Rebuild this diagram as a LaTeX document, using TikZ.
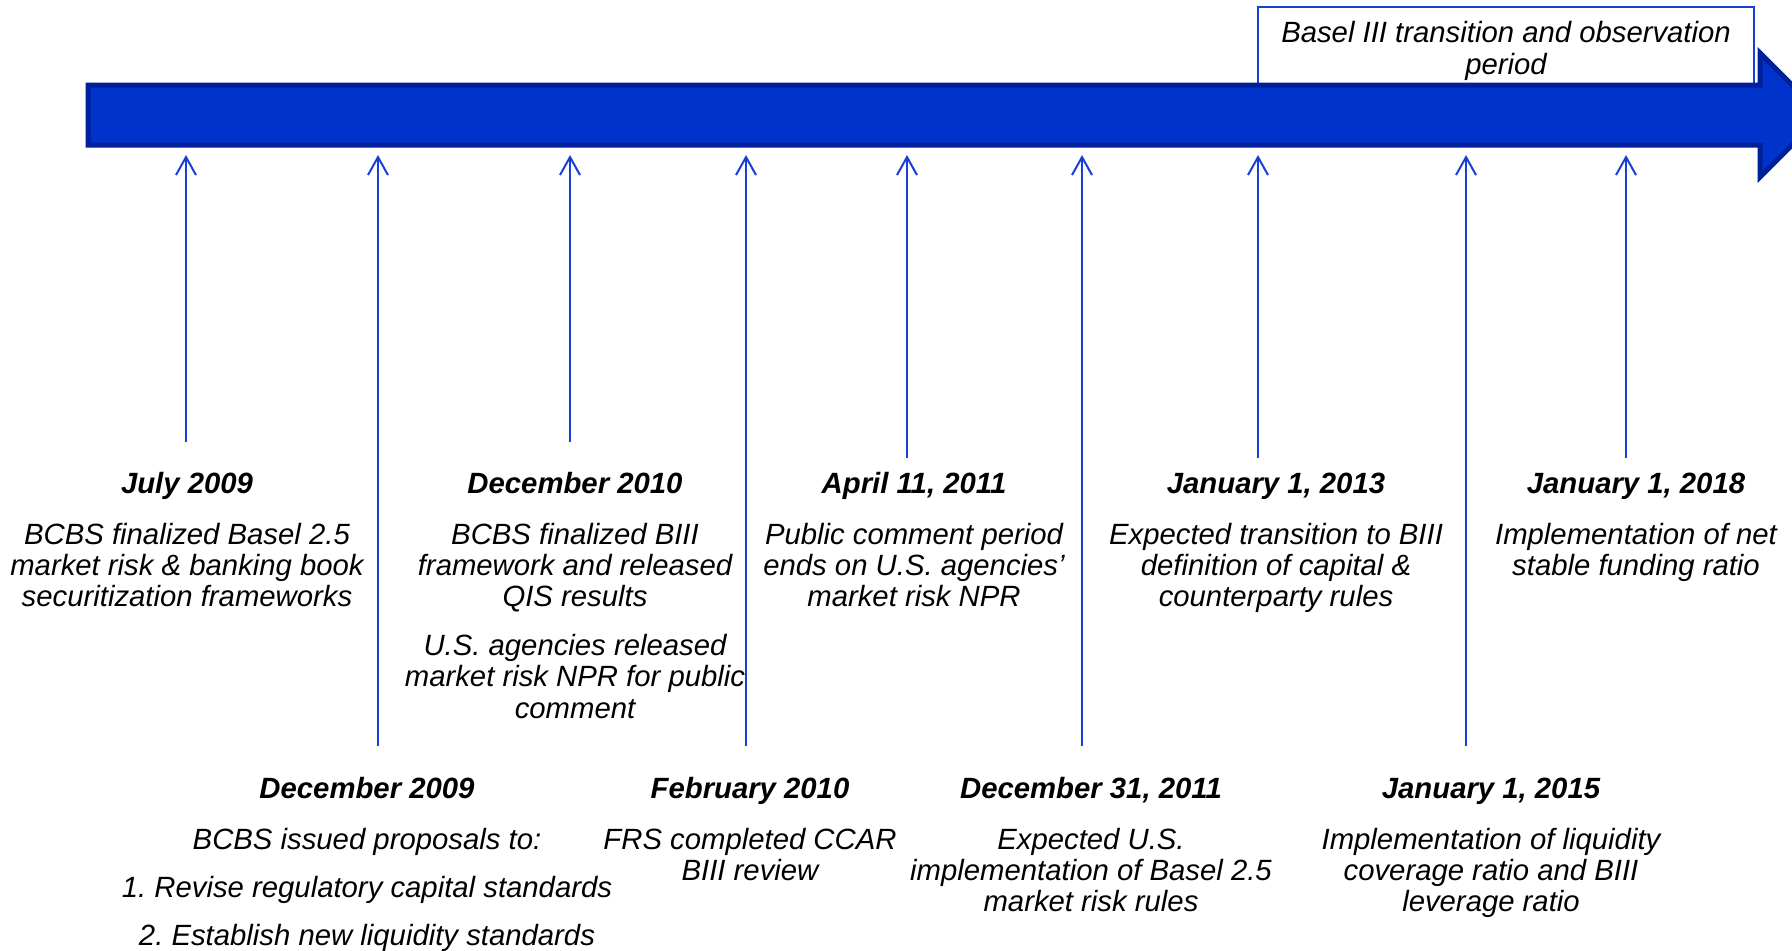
\documentclass[tikz,border=0pt]{standalone}
\usepackage{fontspec}
\setmainfont{Liberation Sans}
\usetikzlibrary{positioning, arrows.meta}
\definecolor{bandblue}{HTML}{0033CC}
\definecolor{bandedge}{HTML}{00209A}
\definecolor{lineblue}{HTML}{1A3FD6}
\tikzstyle{band} = [fill=bandblue, draw=bandedge, line width=2.5pt, line join=miter]
\tikzstyle{periodbox} = [rectangle, draw=lineblue, line width=0.7pt, fill=white, minimum width=248pt, minimum height=44pt, inner sep=0pt, align=center, font=\fontsize{14.65pt}{16pt}\selectfont\itshape]
\tikzstyle{milestone} = [draw=lineblue, line width=1pt, ->, >={Straight Barb[length=9pt, width=10pt]}]
\tikzstyle{datelabel} = [anchor=base, inner sep=0pt, text depth=0pt, font=\fontsize{14.65pt}{15.7pt}\selectfont\bfseries\itshape]
\tikzstyle{eventtext} = [inner sep=0pt, align=center, font=\fontsize{14.65pt}{15.7pt}\selectfont\itshape]

\begin{document}
\begin{tikzpicture}[x=0.5pt, y=-0.5pt, node distance=14.5pt]
\clip (0,0) rectangle (1792,950);
\node (period) [periodbox] at (1506,51) {Basel III transition and observation\\period};
\draw [band] (88,85) -- (1760,85) -- (1760,53) -- (1822,115) -- (1760,177) -- (1760,145) -- (88,145) -- cycle;

\coordinate (tips) at (0,155);
\coordinate (f1) at (186,442);
\coordinate (f2) at (378,746);
\coordinate (f3) at (570,442);
\coordinate (f4) at (746,746);
\coordinate (f5) at (907,458);
\coordinate (f6) at (1082,746);
\coordinate (f7) at (1258,458);
\coordinate (f8) at (1466,746);
\coordinate (f9) at (1626,458);
\foreach \i in {1,...,9}
  \draw [milestone] (f\i) -- (f\i |- tips);

\node (jul09) [datelabel] at (187,493) {July 2009};
\node (dec10) [datelabel] at (575,493) {December 2010};
\node (apr11) [datelabel] at (914,493) {April 11, 2011};
\node (jan13) [datelabel] at (1276,493) {January 1, 2013};
\node (jan18) [datelabel] at (1636,493) {January 1, 2018};
\node (dec09) [datelabel] at (367,798) {December 2009};
\node (feb10) [datelabel] at (750,798) {February 2010};
\node (dec11) [datelabel] at (1091,798) {December 31, 2011};
\node (jan15) [datelabel] at (1491,798) {January 1, 2015};

\node (jul09txt) [eventtext, below=of jul09] {BCBS finalized Basel 2.5\\market risk \& banking book\\securitization frameworks};
\node (dec10txt) [eventtext, below=of dec10] {BCBS finalized BIII\\framework and released\\QIS results};
\node (dec10npr) [eventtext, below=10.5pt of dec10txt] {U.S. agencies released\\market risk NPR for public\\comment};
\node (apr11txt) [eventtext, below=of apr11] {Public comment period\\ends on U.S. agencies’\\market risk NPR};
\node (jan13txt) [eventtext, below=of jan13] {Expected transition to BIII\\definition of capital \&\\counterparty rules};
\node (jan18txt) [eventtext, below=of jan18] {Implementation of net\\stable funding ratio};
\node (dec09txt) [eventtext, below=of dec09] {BCBS issued proposals to:\\[8.5pt]1.\ Revise regulatory capital standards\\[8.5pt]2.\ Establish new liquidity standards};
\node (feb10txt) [eventtext, below=of feb10] {FRS completed CCAR\\BIII review};
\node (dec11txt) [eventtext, below=of dec11] {Expected U.S.\\implementation of Basel 2.5\\market risk rules};
\node (jan15txt) [eventtext, below=of jan15] {Implementation of liquidity\\coverage ratio and BIII\\leverage ratio};
\end{tikzpicture}
\end{document}
